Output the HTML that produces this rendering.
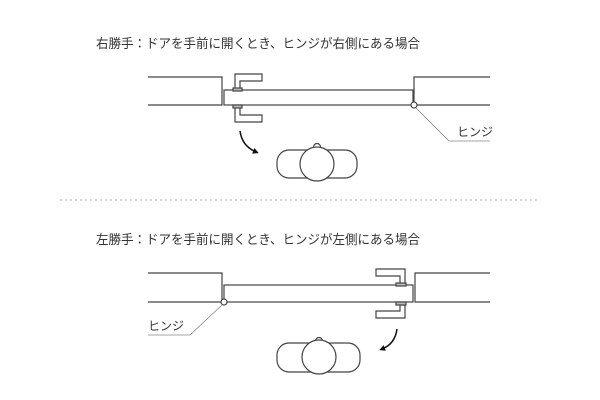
<!DOCTYPE html>
<html><head><meta charset="utf-8"><style>
html,body{margin:0;padding:0;background:#fff;}
svg{display:block}
text{font-family:"Liberation Sans","Noto Sans CJK JP",sans-serif;fill:#333}
</style></head><body>
<svg width="600" height="400" viewBox="0 0 600 400" xmlns="http://www.w3.org/2000/svg">
<defs>
<marker id="ah" markerWidth="6" markerHeight="6" refX="3" refY="3" orient="auto" markerUnits="userSpaceOnUse"><path d="M0,0 L6,3 L0,6 Z" fill="#111"/></marker>
</defs>
<g stroke="#444" stroke-width="1.2" fill="none">
<!-- TOP -->
<text x="96" y="48" font-size="13" stroke="none" textLength="324" lengthAdjust="spacingAndGlyphs">右勝手：ドアを手前に開くとき、ヒンジが右側にある場合</text>
<polyline points="148,77 222,77 222,105 148,105"/>
<rect x="224" y="90" width="189" height="15" fill="#fff"/>
<polyline points="490,77 414,77 414,105 490,105"/>
<circle cx="414" cy="105" r="3" fill="#fff"/>
<polyline points="416,108 449,141 490,141" stroke="#888" stroke-width="0.8"/>
<text x="457" y="136" font-size="12" stroke="none">ヒンジ</text>
<polygon points="235,74 262,74 262,81 240,81 240,90 235,90" fill="#fff"/>
<polygon points="235,106 240,106 240,115 262,115 262,122 235,122" fill="#fff"/>
<rect x="233" y="88" width="9" height="3" fill="#bbb"/>
<rect x="233" y="105" width="9" height="3" fill="#bbb"/>
<path d="M240,131 Q242,146 256,152" stroke="#111" stroke-width="1.5" marker-end="url(#ah)"/>
<rect x="277" y="150" width="80" height="28" rx="12" fill="#fff"/>
<circle cx="317" cy="147" r="3.5" fill="#fff"/>
<circle cx="317" cy="164" r="17" fill="#fff"/>
<!-- divider -->
<line x1="60" y1="200" x2="540" y2="200" stroke="#aaa" stroke-width="1" stroke-dasharray="2,3"/>
<!-- BOTTOM -->
<text x="96" y="244" font-size="13" stroke="none" textLength="324" lengthAdjust="spacingAndGlyphs">左勝手：ドアを手前に開くとき、ヒンジが左側にある場合</text>
<polyline points="148,273 222,273 222,302 148,302"/>
<rect x="224" y="285" width="189" height="17" fill="#fff"/>
<polyline points="490,273 415,273 415,302 490,302"/>
<circle cx="224" cy="302" r="3" fill="#fff"/>
<polyline points="222,305 190,335 148,335" stroke="#888" stroke-width="0.8"/>
<text x="148" y="330" font-size="12" stroke="none">ヒンジ</text>
<polygon points="405,269 376,269 376,276 400,276 400,285 405,285" fill="#fff"/>
<polygon points="405,305 400,305 400,311 376,311 376,318 405,318" fill="#fff"/>
<rect x="396" y="283" width="10" height="3" fill="#bbb"/>
<rect x="396" y="302" width="10" height="3" fill="#bbb"/>
<path d="M397,329 Q395,344 382,349" stroke="#111" stroke-width="1.5" marker-end="url(#ah)"/>
<rect x="277" y="343" width="83" height="29" rx="12" fill="#fff"/>
<circle cx="319" cy="341" r="3.5" fill="#fff"/>
<circle cx="319" cy="357" r="17" fill="#fff"/>
</g>
</svg>
</body></html>
